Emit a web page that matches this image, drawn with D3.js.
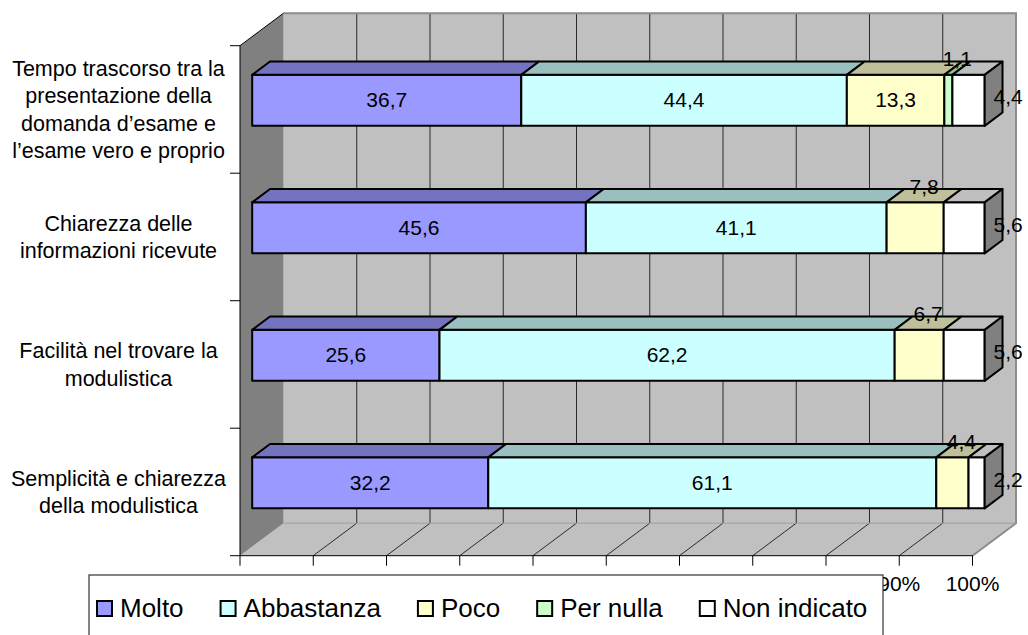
<!DOCTYPE html>
<html>
<head>
<meta charset="utf-8">
<script src="https://cdn.jsdelivr.net/npm/d3@7"></script>
<style>
  html, body { margin: 0; padding: 0; background: #ffffff; }
  svg { display: block; font-family: "Liberation Sans", Arial, sans-serif; }
</style>
</head>
<body>
<svg id="chart" width="1028" height="635"></svg>
<script>
// Categories (top to bottom); "\n" marks the line breaks of each label
const categories = [
  "Tempo trascorso tra la\npresentazione della\ndomanda d’esame e\nl’esame vero e proprio",
  "Chiarezza delle\ninformazioni ricevute",
  "Facilità nel trovare la\nmodulistica",
  "Semplicità e chiarezza\ndella modulistica"
];

// Series (percent answers per category)
const seriesNames = ["Molto", "Abbastanza", "Poco", "Per nulla", "Non indicato"];
const molto       = [36.7, 45.6, 25.6, 32.2];
const abbastanza  = [44.4, 41.1, 62.2, 61.1];
const poco        = [13.3, 7.8, 6.7, 4.4];
const perNulla    = [1.1, 0, 0, 0];
const nonIndicato = [4.4, 5.6, 5.6, 2.2];

// Value axis ticks (percent)
const xTickValues = [0, 10, 20, 30, 40, 50, 60, 70, 80, 90, 100];

// Series colours (front faces)
const seriesColors = ["#9999ff", "#ccffff", "#ffffcc", "#ccffcc", "#ffffff"];

// ---- layout -------------------------------------------------------------
const svg = d3.select("#chart");
const FONT = 21;
const CAT_FONT = 21.5;
const frontPlane = { x0: 240, x1: 972.5, y0: 45.7, y1: 555.7 };
const DX = 43.5, DY = 32.5;          // 3D depth offset of the back wall
const Z0 = 0.28, Z1 = 0.69;          // depth range occupied by the bars

const proj = (px, py, z) => [px + z * DX, py - z * DY];
const pts = arr => arr.map(p => p.join(",")).join(" ");

const x = d3.scaleLinear().domain([0, 1]).range([frontPlane.x0, frontPlane.x1]);
const xPct = d3.scaleLinear().domain([0, 100]).range([frontPlane.x0, frontPlane.x1]);
const yBand = d3.scaleBand().domain(categories).range([frontPlane.y0, frontPlane.y1]).padding(0);
const yBar = d3.scaleBand().domain(categories).range([frontPlane.y0, frontPlane.y1])
  .paddingInner(0.6).paddingOuter(0.3);

const it = d3.formatLocale({ decimal: ",", thousands: ".", grouping: [3], currency: ["€", ""] });
const fmt = it.format(".1f");

const shade = (c, k) => {
  const col = d3.rgb(c);
  return d3.rgb(col.r * k, col.g * k, col.b * k).formatHex();
};

// ---- walls ---------------------------------------------------------------
const bx0 = frontPlane.x0 + DX, bx1 = frontPlane.x1 + DX;
const by0 = frontPlane.y0 - DY, by1 = frontPlane.y1 - DY;

// back wall
svg.append("rect")
  .attr("x", bx0).attr("y", by0).attr("width", bx1 - bx0).attr("height", by1 - by0)
  .attr("fill", "#c0c0c0");

// floor
svg.append("polygon")
  .attr("points", pts([[frontPlane.x0, frontPlane.y1], [bx0, by1], [bx1, by1], [frontPlane.x1, frontPlane.y1]]))
  .attr("fill", "#c0c0c0");

// left wall
svg.append("polygon")
  .attr("points", pts([[frontPlane.x0, frontPlane.y0], [bx0, by0], [bx0, by1], [frontPlane.x0, frontPlane.y1]]))
  .attr("fill", "#808080");

// gridlines on back wall and floor
const grid = svg.append("g");
xTickValues.slice(1, -1).forEach(t => {
  const fx = xPct(t);
  grid.append("line")
    .attr("x1", fx + DX).attr("x2", fx + DX).attr("y1", by0).attr("y2", by1)
    .attr("stroke", "#2a2a2a").attr("stroke-width", 1);
  grid.append("line")
    .attr("x1", fx).attr("y1", frontPlane.y1).attr("x2", fx + DX).attr("y2", by1)
    .attr("stroke", "#2a2a2a").attr("stroke-width", 1);
});

// wall edges
svg.append("polyline")
  .attr("points", pts([[bx0, by0], [bx1, by0], [bx1, by1], [frontPlane.x1, frontPlane.y1]]))
  .attr("fill", "none").attr("stroke", "#8c8c8c").attr("stroke-width", 2);
svg.append("line")
  .attr("x1", bx0).attr("x2", bx1).attr("y1", by1).attr("y2", by1)
  .attr("stroke", "#9a9a9a").attr("stroke-width", 1);
svg.append("line")
  .attr("x1", frontPlane.x0).attr("y1", frontPlane.y0).attr("x2", bx0).attr("y2", by0)
  .attr("stroke", "#000").attr("stroke-width", 1);

// ---- axes ----------------------------------------------------------------
// category axis line + ticks at band boundaries
const catAxis = svg.append("g");
catAxis.append("line")
  .attr("x1", frontPlane.x0).attr("x2", frontPlane.x0)
  .attr("y1", frontPlane.y0).attr("y2", frontPlane.y1)
  .attr("stroke", "#000").attr("stroke-width", 1);
const boundaries = categories.map(c => yBand(c)).concat([frontPlane.y1]);
boundaries.forEach(b => {
  catAxis.append("line")
    .attr("x1", frontPlane.x0 - 10).attr("x2", frontPlane.x0)
    .attr("y1", b).attr("y2", b)
    .attr("stroke", "#000").attr("stroke-width", 1);
});

// category labels
const LINE_H = 27.3;
categories.forEach(c => {
  const lines = c.split("\n");
  const cy = yBand(c) + yBand.bandwidth() / 2;
  const t = svg.append("text")
    .attr("text-anchor", "middle")
    .attr("font-size", CAT_FONT)
    .attr("fill", "#000");
  lines.forEach((ln, i) => {
    t.append("tspan")
      .attr("x", 118.5)
      .attr("y", cy + (i - (lines.length - 1) / 2) * LINE_H + 7.5)
      .text(ln);
  });
});

// value axis (front floor edge)
const valAxis = svg.append("g");
valAxis.append("line")
  .attr("x1", frontPlane.x0).attr("x2", frontPlane.x1)
  .attr("y1", frontPlane.y1).attr("y2", frontPlane.y1)
  .attr("stroke", "#000").attr("stroke-width", 1);
xTickValues.forEach(t => {
  valAxis.append("line")
    .attr("x1", xPct(t)).attr("x2", xPct(t))
    .attr("y1", frontPlane.y1).attr("y2", frontPlane.y1 + 10)
    .attr("stroke", "#000").attr("stroke-width", 1);
  valAxis.append("text")
    .attr("x", xPct(t)).attr("y", 591)
    .attr("text-anchor", "middle")
    .attr("font-size", FONT)
    .text(t + "%");
});

// ---- bars ----------------------------------------------------------------
const rows = categories.map((c, i) => ({
  category: c,
  "Molto": molto[i],
  "Abbastanza": abbastanza[i],
  "Poco": poco[i],
  "Per nulla": perNulla[i],
  "Non indicato": nonIndicato[i]
}));
const stacked = d3.stack().keys(seriesNames).offset(d3.stackOffsetExpand)(rows);

const barsG = svg.append("g");
const labelsG = svg.append("g");

rows.forEach((row, ri) => {
  const yt = yBar(row.category), yb = yt + yBar.bandwidth();
  // last non-zero segment gets the visible end face
  let lastK = -1;
  seriesNames.forEach((s, k) => { if (row[s] > 0) lastK = k; });

  seriesNames.forEach((s, k) => {
    const v = row[s];
    if (!(v > 0)) return;
    const seg = stacked[k][ri];
    const xa = x(seg[0]), xb = x(seg[1]);
    const col = seriesColors[k];

    // front face
    barsG.append("polygon")
      .attr("points", pts([proj(xa, yt, Z0), proj(xb, yt, Z0), proj(xb, yb, Z0), proj(xa, yb, Z0)]))
      .attr("fill", col).attr("stroke", "#000").attr("stroke-width", 2).attr("stroke-linejoin", "round");
    // top face
    barsG.append("polygon")
      .attr("points", pts([proj(xa, yt, Z0), proj(xb, yt, Z0), proj(xb, yt, Z1), proj(xa, yt, Z1)]))
      .attr("fill", shade(col, 0.75)).attr("stroke", "#000").attr("stroke-width", 2).attr("stroke-linejoin", "round");
    // end face
    if (k === lastK) {
      barsG.append("polygon")
        .attr("points", pts([proj(xb, yt, Z0), proj(xb, yt, Z1), proj(xb, yb, Z1), proj(xb, yb, Z0)]))
        .attr("fill", shade(col, 0.5)).attr("stroke", "#000").attr("stroke-width", 2).attr("stroke-linejoin", "round");
    }

    // value label
    const frontMidX = proj((xa + xb) / 2, 0, Z0)[0];
    const frontMidY = proj(0, (yt + yb) / 2, Z0)[1];
    const halfDepthX = (Z1 - Z0) * DX / 2;
    let lx, ly, anchor = "middle";
    if (k === seriesNames.length - 1) {
      lx = proj(xb, 0, Z0)[0] + halfDepthX;
      ly = frontMidY + 4;
      anchor = "start";
    } else if (v < 10) {
      lx = frontMidX + halfDepthX;
      ly = proj(0, yt, Z1)[1] + 4.5;
    } else {
      lx = frontMidX;
      ly = frontMidY + 7;
    }
    labelsG.append("text")
      .attr("x", lx).attr("y", ly)
      .attr("text-anchor", anchor)
      .attr("font-size", FONT)
      .attr("fill", "#000")
      .text(fmt(v));
  });
});

// ---- legend --------------------------------------------------------------
const legend = svg.append("g");
legend.append("rect")
  .attr("x", 89).attr("y", 575).attr("width", 883 - 89).attr("height", 90)
  .attr("fill", "#ffffff").attr("stroke", "#333").attr("stroke-width", 1.2);

let lxPos = 96;
const LEG_FONT = 26, SW = 17, BASE = 617;
seriesNames.forEach((s, k) => {
  legend.append("rect")
    .attr("x", lxPos + 1).attr("y", BASE - SW + 1).attr("width", SW - 2).attr("height", SW - 2)
    .attr("fill", seriesColors[k]).attr("stroke", "#000").attr("stroke-width", 2);
  const t = legend.append("text")
    .attr("x", lxPos + SW + 7).attr("y", BASE)
    .attr("font-size", LEG_FONT)
    .attr("fill", "#000")
    .text(s);
  lxPos = lxPos + SW + 7 + t.node().getComputedTextLength() + 36;
});
</script>
</body>
</html>
